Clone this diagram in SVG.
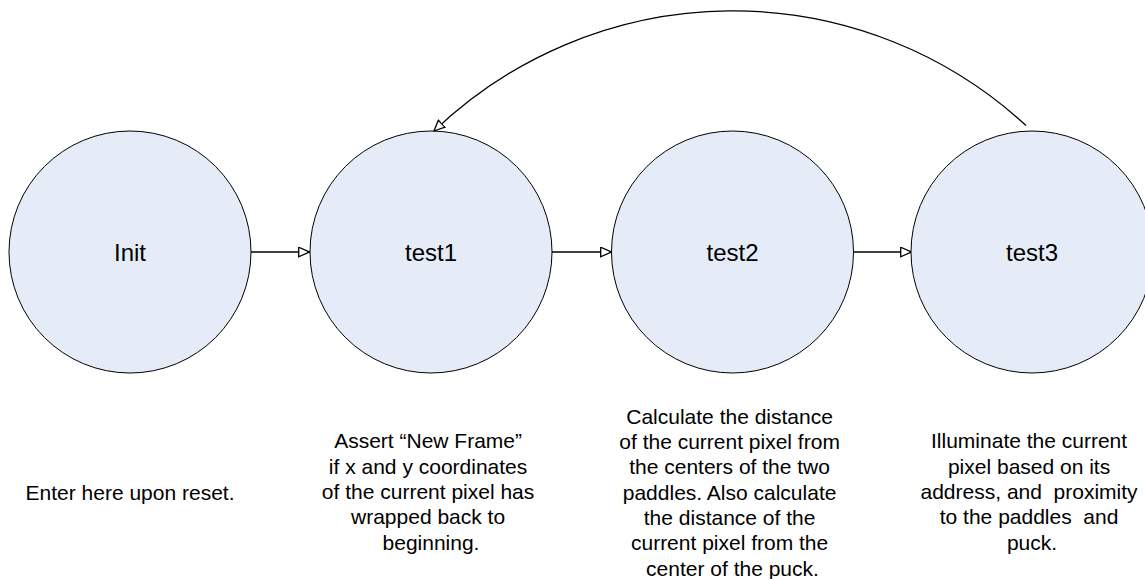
<svg xmlns="http://www.w3.org/2000/svg" width="1145" height="579" viewBox="0 0 1145 579">
  <style>
    .state { fill: #e5ecf7; stroke: #000; stroke-width: 1; }
    .name { font-family: "Liberation Sans", Arial, sans-serif; font-size: 24px; fill: #000; text-anchor: middle; dominant-baseline: central; }
    .note { font-family: "Liberation Sans", Arial, sans-serif; font-size: 21px; fill: #000; text-anchor: middle; }
    .edge { fill: none; stroke: #000; stroke-width: 1.3; marker-end: url(#open); }
  </style>
  <defs>
    <marker id="open" viewBox="0 0 12 11" refX="12" refY="5.5" markerWidth="12" markerHeight="11" markerUnits="userSpaceOnUse" orient="auto">
      <path d="M0.7,0.7 L11.3,5.5 L0.7,10.3 Z" fill="#fff" stroke="#000" stroke-width="1.3"/>
    </marker>
  </defs>
  <rect width="1145" height="579" fill="#fff"/>

  <g id="connectors">
    <line class="edge" x1="250" y1="252" x2="310" y2="252"/>
    <line class="edge" x1="552" y1="252" x2="612" y2="252"/>
    <line class="edge" x1="853" y1="252" x2="912" y2="252"/>
    <path class="edge" d="M1026,125.5 A432,432 0 0 0 433.5,131.5"/>
  </g>

  <g id="init">
    <circle class="state" cx="130" cy="252" r="121"/>
    <text class="name" x="130" y="252">Init</text>
    <text class="note" x="130" y="500">Enter here upon reset.</text>
  </g>

  <g id="test1">
    <circle class="state" cx="431" cy="252" r="121"/>
    <text class="name" x="431" y="252">test1</text>
    <text class="note" x="431" y="448.3">
      <tspan x="431">Assert “New Frame”</tspan>
      <tspan x="431" dy="25.35">if x and y coordinates</tspan>
      <tspan x="431" dy="25.35">of the current pixel has</tspan>
      <tspan x="431" dy="25.35">wrapped back to</tspan>
      <tspan x="431" dy="25.35">beginning.</tspan>
    </text>
  </g>

  <g id="test2">
    <circle class="state" cx="732.5" cy="252" r="121"/>
    <text class="name" x="732.5" y="252">test2</text>
    <text class="note" x="732.5" y="423.5">
      <tspan x="732.5">Calculate the distance</tspan>
      <tspan x="732.5" dy="25.35">of the current pixel from</tspan>
      <tspan x="732.5" dy="25.35">the centers of the two</tspan>
      <tspan x="732.5" dy="25.35">paddles. Also calculate</tspan>
      <tspan x="732.5" dy="25.35">the distance of the</tspan>
      <tspan x="732.5" dy="25.35">current pixel from the</tspan>
      <tspan x="732.5" dy="25.35">center of the puck.</tspan>
    </text>
  </g>

  <g id="test3">
    <circle class="state" cx="1032" cy="252" r="121"/>
    <text class="name" x="1032" y="252">test3</text>
    <text class="note" x="1032" y="448.3">
      <tspan x="1032">Illuminate the current</tspan>
      <tspan x="1032" dy="25.35">pixel based on its</tspan>
      <tspan x="1032" dy="25.35">address, and&#160; proximity</tspan>
      <tspan x="1032" dy="25.35">to the paddles&#160; and</tspan>
      <tspan x="1032" dy="25.35">puck.</tspan>
    </text>
  </g>
</svg>
